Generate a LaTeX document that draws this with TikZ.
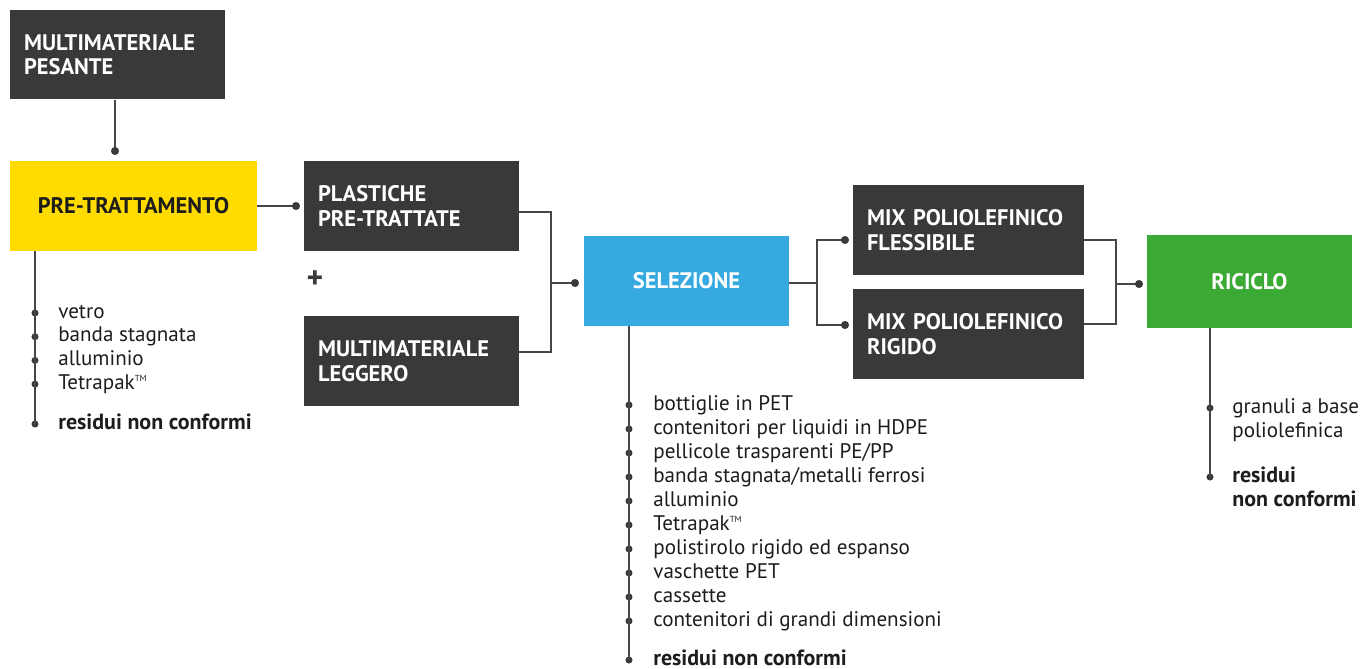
\documentclass[tikz,border=0pt]{standalone}
\usepackage{fontspec}
\setmainfont{PT Sans}
\usepackage{xcolor}
\definecolor{bxdark}{RGB}{56,57,59}
\definecolor{bxyellow}{RGB}{255,219,0}
\definecolor{bxblue}{RGB}{54,169,224}
\definecolor{bxgreen}{RGB}{59,170,53}
\definecolor{lngray}{RGB}{70,70,70}
\definecolor{txtdark}{RGB}{29,29,27}
\usetikzlibrary{positioning,calc}

\begin{document}
\begin{tikzpicture}[x=0.02cm, y=-0.02cm,
        darkbox/.style={rectangle, fill=bxdark, text=white, minimum width=4.3cm,
                        minimum height=1.8cm, text width=3.74cm, inner xsep=0.28cm,
                        align=left, font=\fontsize{12.8}{14}\selectfont\bfseries},
        stepbox/.style={rectangle, minimum height=1.8cm, align=center,
                        font=\fontsize{12.8}{14}\selectfont\bfseries},
        link/.style={draw=lngray, line width=0.8pt},
        dotc/.style={fill=bxdark},
        item/.style={inner sep=0pt, text height=8pt, text depth=2pt, text=txtdark,
                     font=\fontsize{12}{13.6}\selectfont},
        itembold/.style={item, text depth=0pt, yshift=1pt,
                         font=\fontsize{12.5}{13.6}\selectfont\bfseries},
        item2/.style={inner sep=0pt, anchor=north west, align=left, text=txtdark,
                      font=\fontsize{12}{13.6}\selectfont}
      ]
        \useasboundingbox (0,0) rectangle (1367,669);

        % boxes
        \node[darkbox] (pesante) at (117.5,54.5) {MULTIMATERIALE\\PESANTE};
        \node[stepbox, fill=bxyellow, text=txtdark, minimum width=4.94cm] (pretratt) at (133.5,206) {PRE-TRATTAMENTO};
        \node[darkbox] (plastiche) at (411.5,206) {PLASTICHE\\PRE-TRATTATE};
        \node[font=\fontsize{18}{18}\selectfont\bfseries, text=bxdark] (plus) at (315,280) {+};
        \node[darkbox] (leggero) at (411.5,361) {MULTIMATERIALE\\LEGGERO};
        \node[stepbox, fill=bxblue, text=white, minimum width=4.1cm] (selezione) at (686.5,281) {SELEZIONE};
        \node[darkbox, minimum width=4.62cm, text width=4.06cm] (flessibile) at (968.5,230) {MIX POLIOLEFINICO\\FLESSIBILE};
        \node[darkbox, minimum width=4.62cm, text width=4.06cm] (rigido) at (968.5,334) {MIX POLIOLEFINICO\\RIGIDO};
        \node[stepbox, fill=bxgreen, text=white, minimum width=4.1cm, minimum height=1.86cm] (riciclo) at (1249.5,281.5) {RICICLO};

        % junctions and dots
        \coordinate (d1) at (115,151);
        \coordinate (d2) at (296,206);
        \coordinate (j1top) at (551,212);
        \coordinate (j1) at (551,283);
        \coordinate (j1bot) at (551,352);
        \coordinate (d3) at (575,283);
        \coordinate (j2) at (817,283);
        \coordinate (d4) at (845,240);
        \coordinate (d5) at (845,325);
        \coordinate (j3top) at (1116,240);
        \coordinate (j3) at (1116,284);
        \coordinate (j3bot) at (1116,324);
        \coordinate (d6) at (1139,284);

        \draw[link] (pesante.south -| d1) -- (d1);
        \draw[link] (pretratt.east) -- (d2);
        \draw[link] (plastiche.east |- j1top) -- (j1top) -- (j1bot) -- (leggero.east |- j1bot);
        \draw[link] (j1) -- (d3);
        \draw[link] (selezione.east |- j2) -- (j2);
        \draw[link] (d4) -| (j2) |- (d5);
        \draw[link] (flessibile.east |- j3top) -- (j3top) -- (j3bot) -- (rigido.east |- j3bot);
        \draw[link] (j3) -- (d6);
        \foreach \d in {d1,d2,d3,d4,d5,d6}
          \fill[dotc] (\d) circle (2.3pt);

        % pre-trattamento list
        \foreach \txt [count=\i] in {vetro, banda stagnata, alluminio, Tetrapak\textsuperscript{\tiny TM}} {
          \coordinate (pd\i) at (35,{313+23.7*(\i-1)});
          \fill[dotc] (pd\i) circle (2pt);
          \node[item, right=0.46cm of pd\i] (pi\i) {\txt};
        }
        \coordinate (pd5) at (35,424);
        \fill[dotc] (pd5) circle (2pt);
        \node[itembold, right=0.46cm of pd5] (pres) {residui non conformi};
        \draw[link] (pretratt.south -| pd1) -- (pd5);

        % selezione list
        \foreach \txt [count=\i] in {bottiglie in PET, contenitori per liquidi in HDPE,
            pellicole trasparenti PE/PP, banda stagnata/metalli ferrosi, alluminio,
            Tetrapak\textsuperscript{\tiny TM}, polistirolo rigido ed espanso, vaschette PET, cassette,
            contenitori di grandi dimensioni} {
          \coordinate (sd\i) at (629,{405+24*(\i-1)});
          \fill[dotc] (sd\i) circle (2pt);
          \node[item, right=0.48cm of sd\i] (si\i) {\txt};
        }
        \coordinate (sd11) at (629,660);
        \fill[dotc] (sd11) circle (2pt);
        \node[itembold, right=0.48cm of sd11] (sres) {residui non conformi};
        \draw[link] (selezione.south -| sd1) -- (sd11);

        % riciclo list
        \coordinate (rd1) at (1210,408);
        \coordinate (rd2) at (1210,477);
        \fill[dotc] (rd1) circle (2pt);
        \fill[dotc] (rd2) circle (2pt);
        \node[item2] (ri1) at ($(rd1)+(22,-10)$) {granuli a base\\poliolefinica};
        \node[item2, font=\fontsize{12.5}{13.6}\selectfont\bfseries] (rres) at ($(rd2)+(22,-10)$) {residui\\non conformi};
        \draw[link] (riciclo.south -| rd1) -- (rd2);
      \end{tikzpicture}
\end{document}
